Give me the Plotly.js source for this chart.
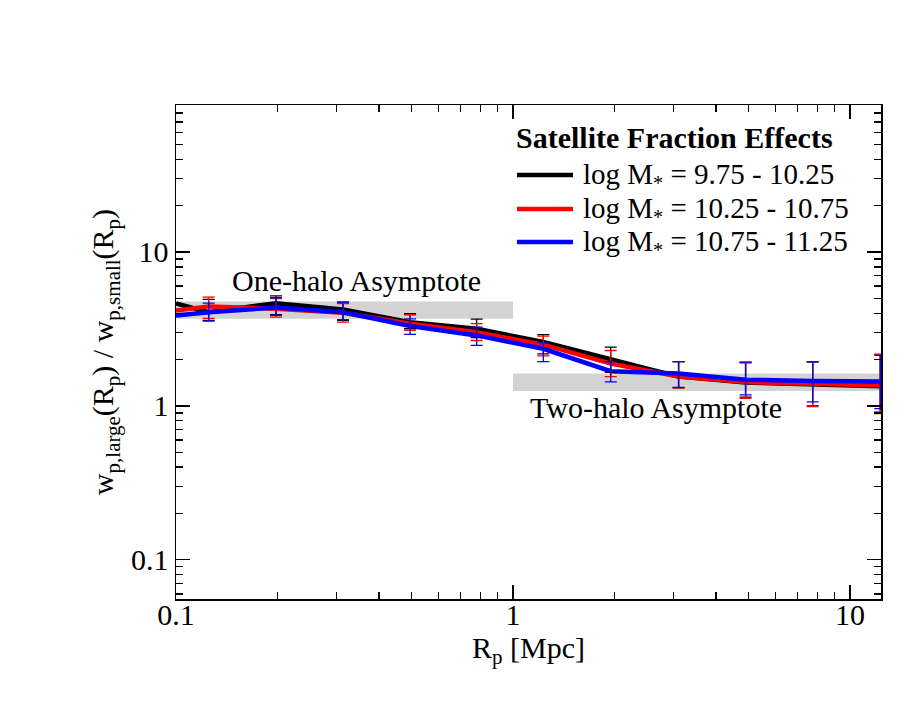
<!DOCTYPE html>
<html><head><meta charset="utf-8">
<script src="https://cdn.plot.ly/plotly-3.0.1.min.js"></script>
<style>html,body{margin:0;padding:0;background:#fff;}#chart{width:913px;height:706px;}</style>
</head><body><div id="chart"></div>
<script>
// Projected radius bins [Mpc]
const rp = [0.125, 0.198, 0.313, 0.495, 0.78, 1.23, 1.95, 3.1, 4.9, 7.75, 12.3];
// value of each line at the left edge of the plot (R_p = 0.1)
const edgeX = 0.1;
const edgeY = [4.63, 4.17, 3.87];

const legendTitle = 'Satellite Fraction Effects';
const seriesNames = [
  'log M<sub>*</sub> = 9.75 - 10.25',
  'log M<sub>*</sub> = 10.25 - 10.75',
  'log M<sub>*</sub> = 10.75 - 11.25'
];
const seriesColors = ['#000000', '#ff0000', '#0000ff'];

const ratioBlack = [4.06, 4.65, 4.23, 3.50, 3.17, 2.60, 2.00, 1.55, 1.42, 1.38, 1.34];
const upperBlack = [4.92, 5.18, 4.72, 3.97, 3.66, 2.90, 2.41, 1.94, 1.92, 1.93, 2.16];
const lowerBlack = [3.59, 3.91, 3.59, 3.17, 2.78, 2.18, 1.65, 1.31, 1.14, 1.00, 0.91];

const ratioRed = [4.43, 4.28, 4.03, 3.42, 3.01, 2.50, 1.88, 1.55, 1.43, 1.39, 1.36];
const upperRed = [5.09, 4.98, 4.61, 3.91, 3.42, 2.84, 2.29, 1.94, 1.92, 1.93, 2.16];
const lowerRed = [3.70, 3.77, 3.50, 3.09, 2.66, 2.11, 1.55, 1.31, 1.12, 0.99, 0.89];

const ratioBlue = [4.06, 4.35, 4.06, 3.30, 2.87, 2.35, 1.68, 1.62, 1.48, 1.45, 1.44];
const upperBlue = [4.65, 5.04, 4.72, 3.68, 3.25, 2.57, 1.94, 1.94, 1.90, 1.93, 2.13];
const lowerBlue = [3.55, 3.87, 3.63, 2.91, 2.47, 1.94, 1.43, 1.32, 1.18, 1.06, 0.96];

// Asymptote bands: [xmin, xmax], [ymin, ymax]
const oneHaloX = [0.1, 1];
const oneHaloY = [3.68, 4.77];
const twoHaloX = [1, 13];
const twoHaloY = [1.25, 1.62];

const tickVals = [0.1, 1, 10];
const tickText = ['0.1', '1', '10'];

const FONT = 'Liberation Serif, Times New Roman, serif';

function band(xr, yr) {
  return {
    x: [xr[0], xr[1], xr[1], xr[0], xr[0]],
    y: [yr[0], yr[0], yr[1], yr[1], yr[0]],
    mode: 'lines', fill: 'toself', fillcolor: '#d3d3d3',
    line: {width: 0, color: '#d3d3d3'}, showlegend: false, hoverinfo: 'skip'
  };
}

const ratios = [ratioBlack, ratioRed, ratioBlue];
const uppers = [upperBlack, upperRed, upperBlue];
const lowers = [lowerBlack, lowerRed, lowerBlue];

const traces = [band(oneHaloX, oneHaloY), band(twoHaloX, twoHaloY)];
for (let i = 0; i < 3; i++) {
  traces.push({
    x: [edgeX].concat(rp), y: [edgeY[i]].concat(ratios[i]),
    mode: 'lines', name: seriesNames[i], showlegend: false,
    line: {color: seriesColors[i], width: 4.5}
  });
}
for (let i = 0; i < 3; i++) {
  traces.push({
    x: rp, y: ratios[i], mode: 'markers', showlegend: false,
    marker: {size: 1, opacity: 0, color: seriesColors[i]},
    error_y: {
      type: 'data', symmetric: false,
      array: uppers[i].map((u, k) => u - ratios[i][k]),
      arrayminus: lowers[i].map((l, k) => ratios[i][k] - l),
      color: seriesColors[i], thickness: 1.3, width: 6
    }
  });
}

const axisCommon = {
  type: 'log', showgrid: false, zeroline: false,
  showline: true, linecolor: '#000', linewidth: 1.5, mirror: 'ticks',
  ticks: 'inside', ticklen: 14, tickwidth: 1.3, tickcolor: '#000',
  tickmode: 'array', tickvals: tickVals, ticktext: tickText,
  tickfont: {family: FONT, size: 30, color: '#000'},
  minor: {ticks: 'inside', ticklen: 7, tickwidth: 1.3, tickcolor: '#000', dtick: 'D1', showgrid: false}
};

// manual legend (paper coordinates)
const legRowY = [0.8583, 0.7895, 0.7227];
const legShapes = seriesColors.map((c, i) => ({
  type: 'line', xref: 'paper', yref: 'paper',
  x0: 0.4837, x1: 0.5631, y0: legRowY[i], y1: legRowY[i],
  line: {color: c, width: 4.5}
}));
const legAnn = [{
  xref: 'paper', yref: 'paper', x: 0.4795, y: 0.9332, xanchor: 'left', yanchor: 'middle',
  text: '<b>' + legendTitle + '</b>', showarrow: false,
  font: {family: FONT, size: 30, color: '#000'}
}].concat(seriesNames.map((n, i) => ({
  xref: 'paper', yref: 'paper', x: 0.5745, y: legRowY[i] - 0.002, xanchor: 'left', yanchor: 'middle',
  text: n, showarrow: false, font: {family: FONT, size: 29, color: '#000'}
})));

const layout = {
  width: 913, height: 706,
  paper_bgcolor: '#fff', plot_bgcolor: '#fff',
  margin: {l: 176, r: 32, t: 105, b: 107},
  font: {family: FONT, color: '#000'},
  showlegend: false,
  xaxis: Object.assign({}, axisCommon, {
    range: [-1, 1.092], ticklabelstandoff: -12
  }),
  yaxis: Object.assign({}, axisCommon, {
    range: [-1.255, 1.955],
    title: {text: 'w<sub>p,large</sub>(R<sub>p</sub>) / w<sub>p,small</sub>(R<sub>p</sub>)', font: {family: FONT, size: 30, color: '#000'}, standoff: 8}
  }),
  shapes: legShapes,
  annotations: [
    {x: -0.463, y: 0.815, xref: 'x', yref: 'y', text: 'One-halo Asymptote', showarrow: false,
     font: {family: FONT, size: 30, color: '#000'}},
    {x: 0.425, y: -0.008, xref: 'x', yref: 'y', text: 'Two-halo Asymptote', showarrow: false,
     font: {family: FONT, size: 30, color: '#000'}},
    {x: 0.5, y: -0.104, xref: 'paper', yref: 'paper', xanchor: 'center', yanchor: 'middle',
     text: 'R<sub>p</sub> [Mpc]', showarrow: false, font: {family: FONT, size: 30, color: '#000'}}
  ].concat(legAnn)
};

Plotly.newPlot('chart', traces, layout, {displayModeBar: false, staticPlot: true});
</script></body></html>
